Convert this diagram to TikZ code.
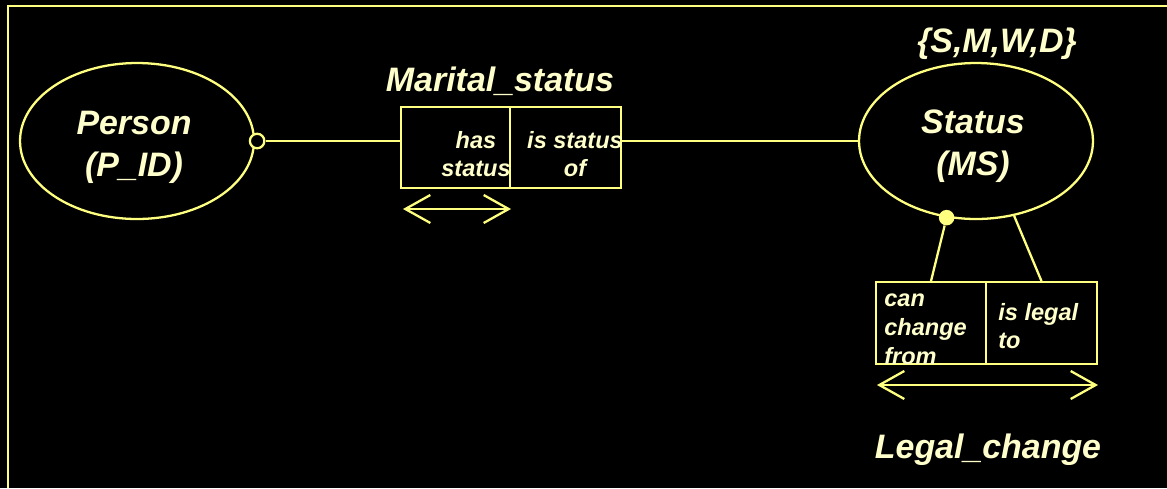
\documentclass[tikz,border=0pt]{standalone}
\usepackage{fontspec}
\setmainfont{Liberation Sans}
\usetikzlibrary{shapes.geometric,arrows.meta}
\definecolor{erline}{HTML}{FFFF80}
\definecolor{ertext}{HTML}{FFFFCC}
\begin{document}
\begin{tikzpicture}[x=0.02cm, y=-0.02cm, font=\bfseries\itshape]
        \tikzset{
            edge/.style={draw=erline, line width=1.3pt},
            entity/.style={ellipse, draw=erline, line width=1.3pt, inner sep=0pt,
                minimum width=4.68cm, minimum height=3.12cm},
            cell/.style={draw=erline, line width=1.3pt, inner sep=0pt,
                minimum height=1.63cm},
            bigtext/.style={text=ertext, inner sep=0pt, align=center,
                font=\fontsize{19.3}{24}\selectfont\bfseries\itshape},
            roletext/.style={text=ertext, inner sep=0pt,
                font=\fontsize{13.4}{16.4}\selectfont\bfseries\itshape},
            span/.style={draw=erline, line width=1.3pt,
                {Straight Barb[length=0.5cm, width=0.56cm]}-{Straight Barb[length=0.5cm, width=0.56cm]}}
        }

        \useasboundingbox (0,0) rectangle (1167,488);
        \fill[black] (0,0) rectangle (1167,488);
        \draw[edge] (7.7,488) -- (7.7,6) -- (1167,6);

        % entities
        \node[entity] (person) at (137,141) {};
        \node[entity] (status) at (976,141) {};
        \node[bigtext] (personlabel) at (134,147.5) {Person\\(P\_ID)};
        \node[bigtext] (statuslabel) at (973,146) {Status\\(MS)};
        \node[bigtext, anchor=base] (domain) at (997,52) {\{S,M,W,D\}};

        % fact type Marital_status
        \node[cell, minimum width=2.18cm] (mhas) at (455.5,147.5) {};
        \node[cell, minimum width=2.22cm] (mof) at (565.5,147.5) {};
        \node[roletext, align=center] (hastext) at (476,154) {has\\status};
        \node[roletext, align=center] (oftext) at (575,154) {is status\\of};
        \node[bigtext, anchor=base] (marital) at (500,91) {Marital\_status};
        \coordinate (mspanL) at (403,209);
        \coordinate (mspanR) at (511,209);
        \draw[span] (mspanL) -- (mspanR);

        % fact type Legal_change
        \node[cell, minimum width=2.2cm] (lfrom) at (931,323) {};
        \node[cell, minimum width=2.22cm] (lto) at (1041.5,323) {};
        \node[roletext, align=left, anchor=west] (fromtext) at (884,329.5) {can\\change\\from};
        \node[roletext, align=left, anchor=west] (totext) at (998,326) {is legal\\to};
        \node[bigtext, anchor=base] (legal) at (988,458) {Legal\_change};
        \coordinate (lspanL) at (877,385);
        \coordinate (lspanR) at (1098,385);
        \draw[span] (lspanL) -- (lspanR);

        % connectors
        \node[circle, draw=erline, fill=black, line width=1.3pt, inner sep=0pt,
            minimum size=0.29cm] (pring) at ([xshift=0.04cm]person.east) {};
        \draw[edge] (pring.east) -- (pring.east -| mhas.west);
        \draw[edge] (mof.east |- status.west) -- (status.west);
        \node[circle, fill=erline, inner sep=0pt, minimum size=0.31cm] (sdot) at (status.249) {};
        \draw[edge] (sdot) -- (lfrom.north);
        \draw[edge] (status.297) -- (lto.north);
    \end{tikzpicture}
\end{document}
